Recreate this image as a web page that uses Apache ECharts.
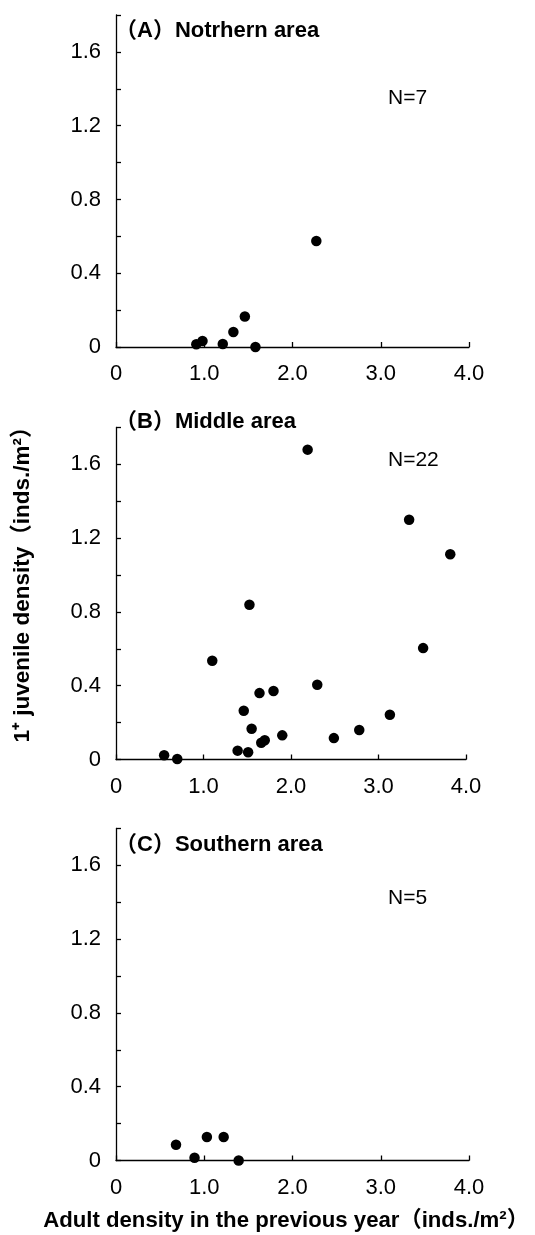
<!DOCTYPE html>
<html>
<head>
<meta charset="utf-8">
<script src="https://cdn.jsdelivr.net/npm/echarts@6/dist/echarts.min.js"></script>
<style>
html,body{margin:0;padding:0;background:#fff;}
#c{width:535px;height:1235px;}
</style>
</head>
<body>
<div id="c"></div>
<script>
// Data (x: adult density previous year, y: 1+ juvenile density)
const northern = [[0.91,0.015],[0.98,0.033],[1.21,0.016],[1.33,0.081],[1.46,0.165],[1.58,0.0],[2.27,0.575]];
const middle = [[0.55,0.023],[0.70,0.003],[1.10,0.535],[1.39,0.048],[1.46,0.264],[1.51,0.039],[1.525,0.839],[1.55,0.167],[1.64,0.36],[1.66,0.091],[1.70,0.104],[1.80,0.371],[1.90,0.131],[2.19,1.68],[2.30,0.405],[2.49,0.116],[2.78,0.160],[3.13,0.243],[3.35,1.30],[3.51,0.604],[3.82,1.113]];
const southern = [[0.68,0.085],[0.89,0.015],[1.03,0.127],[1.22,0.127],[1.39,0.0]];
const panelTitles = ['（A）Notrhern area','（B）Middle area','（C）Southern area'];
const nLabels = ['N=7','N=22','N=5'];
const xTicks = ['0','1.0','2.0','3.0','4.0'];
const yTickLabels = {0:'0',0.4:'0.4',0.8:'0.8',1.2:'1.2',1.6:'1.6'};
const yTitle = '1⁺ juvenile density（inds./m²）';
const xTitle = 'Adult density in the previous year（inds./m²）';

const FONT = "'Liberation Sans', Arial, 'Noto Sans CJK JP', sans-serif";
const grids = [
  {left:116, right:66, top:15, height:332},
  {left:116, right:69, top:427.5, height:332},
  {left:116, right:66, top:828.5, height:332}
];
const datasets = [northern, middle, southern];

const xAxes = grids.map((g,i)=>({
  gridIndex:i, type:'value', min:0, max:4, interval:1,
  axisLine:{show:true,onZero:false,lineStyle:{color:'#000',width:1.3}},
  axisTick:{show:true,inside:true,length:5,lineStyle:{color:'#000',width:1.3}},
  splitLine:{show:false},
  axisLabel:{color:'#000',fontSize:22,fontFamily:FONT,margin:16,
    formatter:(v)=>xTicks[Math.round(v)]}
}));
const yAxes = grids.map((g,i)=>({
  gridIndex:i, type:'value', min:0, max:1.8, interval:0.2,
  axisLine:{show:true,onZero:false,lineStyle:{color:'#000',width:1.3}},
  axisTick:{show:true,inside:true,length:5,lineStyle:{color:'#000',width:1.3}},
  splitLine:{show:false},
  axisLabel:{color:'#000',fontSize:22,fontFamily:FONT,margin:15,showMaxLabel:true,
    formatter:(v)=>{const k=Math.round(v*10)/10; return (k in yTickLabels)?yTickLabels[k]:'';}}
}));
const series = datasets.map((d,i)=>({
  type:'scatter', xAxisIndex:i, yAxisIndex:i, data:d,
  symbol:'circle', symbolSize:10.5,
  itemStyle:{color:'#000',opacity:1}, emphasis:{disabled:true}, silent:true
}));

const titleY = [31, 422, 845];
const nY = [98, 460, 898];
const graphics = [];
panelTitles.forEach((t,i)=>{
  graphics.push({type:'text', x:115, y:titleY[i],
    style:{text:t, font:"bold 22px "+FONT, fill:'#000', align:'left', verticalAlign:'middle'}});
  graphics.push({type:'text', x:388, y:nY[i],
    style:{text:nLabels[i], font:"21px "+FONT, fill:'#000', align:'left', verticalAlign:'middle'}});
});
graphics.push({type:'text', x:23, y:579, rotation:Math.PI/2,
  style:{text:yTitle, font:"bold 22.5px "+FONT, fill:'#000', align:'center', verticalAlign:'middle'}});
graphics.push({type:'text', x:286, y:1221,
  style:{text:xTitle, font:"bold 22.2px "+FONT, fill:'#000', align:'center', verticalAlign:'middle'}});

const chart = echarts.init(document.getElementById('c'), null, {renderer:'canvas'});
chart.setOption({
  animation:false, backgroundColor:'#fff',
  grid:grids, xAxis:xAxes, yAxis:yAxes, series:series, graphic:graphics
});
</script>
</body>
</html>
